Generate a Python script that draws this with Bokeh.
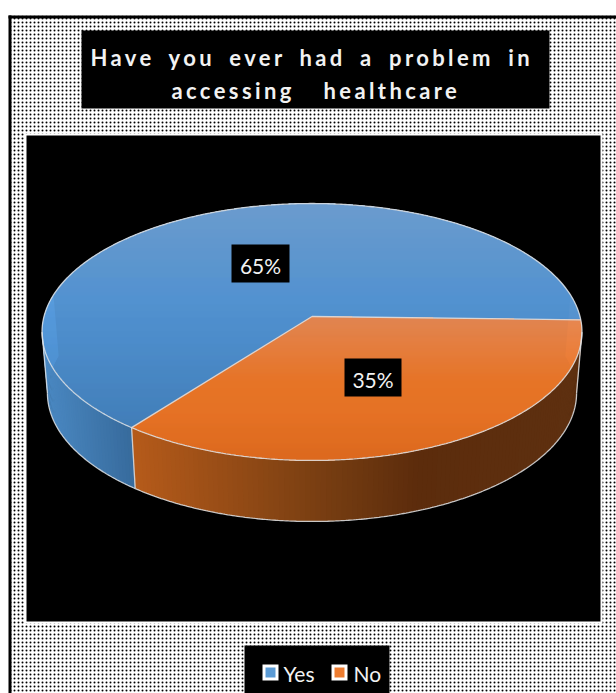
import numpy as np
from bokeh.embed import file_html
from bokeh.layouts import column
from bokeh.models import InlineStyleSheet, Range1d
from bokeh.plotting import figure
from bokeh.resources import INLINE
from bokeh.core.properties import value

# ---- chart content -------------------------------------------------------
title_lines = ["Have you ever had a problem in", "accessing\u00a0 healthcare"]
categories = ["Yes", "No"]
shares = [65, 35]
share_labels = ["65%", "35%"]

# ---- palette -------------------------------------------------------------
top_stops = {
    "Yes": ([205, 300, 340, 430], [(114, 166, 220), (88, 156, 222), (82, 150, 216), (70, 134, 196)]),
    "No": ([318, 380, 410, 460], [(241, 142, 86), (246, 124, 42), (245, 122, 40), (235, 112, 32)]),
}
wall_stops = {
    "Yes": ([42, 133], [(74, 136, 194), (54, 105, 154)]),
    "No": ([133, 311, 415, 581], [(180, 90, 26), (122, 63, 18), (92, 44, 12), (94, 48, 16)]),
}
swatch_colors = {"Yes": "#5B9BD5", "No": "#ED7D31"}
RIM = "#dfe3e6"

# ---- projection of the tilted disc ---------------------------------------
CX, R, TILT, APEX_Y, SLOPE_Y = 311.5, 268.0, 0.1206, 316.0, 88.5
DEPTH, BASE_SCALE = 61.0, 0.98
START_DEG = 1.5
PAGE_H = 693
HEAD_H = 120


def rim(theta_deg):
    th = np.radians(theta_deg)
    t = np.sin(th)
    den = 1 - TILT * t
    return CX + R * np.cos(th) / den, (SLOPE_Y * t + APEX_Y) / den


def base(theta_deg):
    x, y = rim(theta_deg)
    return CX + (x - CX) * BASE_SCALE, y + DEPTH


def ramp(pos, stops):
    where, rgb = stops
    rgb = np.array(rgb, dtype=float)
    return [
        "#%02x%02x%02x" % tuple(int(round(np.interp(q, where, rgb[:, i]))) for i in range(3))
        for q in pos
    ]


def new_figure(height, **extra):
    fig = figure(
        width=616,
        height=height,
        x_range=Range1d(0, 616),
        y_range=Range1d(height, 0),
        toolbar_location=None,
        output_backend="svg",
        min_border=0,
        outline_line_color=None,
        **extra,
    )
    fig.axis.visible = False
    fig.grid.visible = False
    return fig


# ---- chart body ---------------------------------------------------------
p = new_figure(PAGE_H, background_fill_color="white", border_fill_color="white")

# Dotted ground, with a heavy black rule on its top and left sides.
p.quad(
    left=8, right=618, top=15, bottom=PAGE_H + 2,
    fill_color="white", line_color=None,
    hatch_pattern="dot", hatch_color="black", hatch_scale=4, hatch_weight=2.4,
)
p.quad(left=8, right=11, top=15, bottom=PAGE_H + 2, fill_color="black", line_color=None)
p.quad(left=8, right=618, top=15, bottom=18, fill_color="black", line_color=None)

p.quad(left=81, right=549, top=30, bottom=108, fill_color="black", line_color=None)
p.quad(left=24, right=602, top=133, bottom=623, fill_color="white", line_color=None)
p.quad(left=26, right=600, top=135, bottom=621, fill_color="black", line_color=None)

# Slice angles follow the shares, the second slice starting near the right edge.
sweeps = dict(zip(categories, np.array(shares) * 3.6))
spans = {
    "No": (START_DEG, START_DEG + sweeps["No"]),
    "Yes": (START_DEG + sweeps["No"], START_DEG + 360),
}

# Side wall: one shaded facet per degree of visible rim, each lapping the next.
for cat, lo, hi in [("Yes", spans["Yes"][0], 190), ("No", -10, spans["No"][1])]:
    edges = np.arange(lo, hi + 1, 1.0)
    edges[-1] = hi
    xs, ys, mids = [], [], []
    for a, b in zip(edges[:-1], edges[1:]):
        lap = max(a - 0.7, lo)
        xa, ya = rim(lap)
        xb, yb = rim(b)
        xc, yc = base(b)
        xd, yd = base(lap)
        xs.append([xa, xb, xc, xd])
        ys.append([ya, yb, yc, yd])
        mids.append(rim((a + b) / 2)[0])
    p.patches(xs, ys, fill_color=ramp(mids, wall_stops[cat]), fill_alpha=1.0, line_color=None)

# Top face: each slice is filled row by row for its vertical shading.
rows = np.arange(200.0, 464.0, 1.0)
for cat in categories:
    lo, hi = spans[cat]
    angles = np.linspace(lo, hi, 720)
    rx, ry = rim(angles)
    px = np.concatenate([[CX], rx, [CX]])
    py = np.concatenate([[APEX_Y], ry, [APEX_Y]])
    lefts, rights, tops, bottoms = [], [], [], []
    for row in rows:
        yc = row + 0.5
        hit = (py[:-1] - yc) * (py[1:] - yc) < 0
        cross = px[:-1][hit] + (yc - py[:-1][hit]) / (py[1:][hit] - py[:-1][hit]) * (px[1:][hit] - px[:-1][hit])
        cross = np.sort(cross)
        for a, b in zip(cross[0::2], cross[1::2]):
            lefts.append(a)
            rights.append(b)
            tops.append(row - 0.2)
            bottoms.append(row + 1.2)
    p.quad(
        left=lefts, right=rights, top=tops, bottom=bottoms,
        fill_color=ramp(np.array(tops), top_stops[cat]), fill_alpha=1.0, line_color=None,
    )

# Pale edge lines around the faces.
edge = dict(line_color=RIM, line_width=1.3, line_alpha=0.85)
ring = np.linspace(0, 360, 721)
p.line(*rim(ring), **edge)
front = np.linspace(7, 173, 333)
p.line(*base(front), **edge)
for a in (7, 173):
    x0, y0 = rim(a)
    x1, y1 = base(a)
    p.line([x0, x1], [y0, y1], **edge)
seam = spans["No"][1]
for a in (spans["No"][0], seam):
    x0, y0 = rim(a)
    p.line([CX, x0], [APEX_Y, y0], **edge)
x0, y0 = rim(seam)
x1, y1 = base(seam)
p.line([x0, x1], [y0, y1], **edge)

# Value labels on black plates.
p.quad(left=[231, 344], right=[289, 401], top=[244, 358], bottom=[282, 396], fill_color="black", line_color=None)
p.text(
    x=[260, 372.5], y=[265, 379], text=share_labels,
    text_color="#f2f2f2", text_font=value("Lato"), text_font_size="21px",
    text_align="center", text_baseline="middle",
)

# Legend on its own black plate.
p.quad(left=244, right=389, top=645, bottom=695, fill_color="black", line_color=None)
swatch_left = [262, 331]
label_left = [283, 353]
p.quad(
    left=swatch_left, right=[v + 16 for v in swatch_left], top=664, bottom=680,
    fill_color="white", line_color=None,
)
p.quad(
    left=[v + 3 for v in swatch_left], right=[v + 13 for v in swatch_left], top=667, bottom=677,
    fill_color=[swatch_colors[c] for c in categories], line_color=None,
)
p.text(
    x=label_left, y=[673, 673], text=categories,
    text_color="#f2f2f2", text_font=value("Lato"), text_font_size="21px",
    text_align="left", text_baseline="middle",
)

# ---- heading: a clear sheet laid over the top, so its spaced-out type
# inherits the letter spacing without touching the labels underneath ------
head = new_figure(
    HEAD_H,
    background_fill_alpha=0,
    border_fill_alpha=0,
    margin=(-PAGE_H, 0, 0, 0),
    stylesheets=[InlineStyleSheet(css=":host { letter-spacing: 3.4px; word-spacing: 5.6px; }")],
)
head.text(
    x=[90, 171], y=[57, 90], text=title_lines,
    text_color="#f2f2f2", text_font=value("Lato"), text_font_style="bold",
    text_font_size="22px", text_align="left", text_baseline="middle",
)

page = column(p, head, spacing=0)
open("out.html", "w").write(file_html(page, INLINE))
